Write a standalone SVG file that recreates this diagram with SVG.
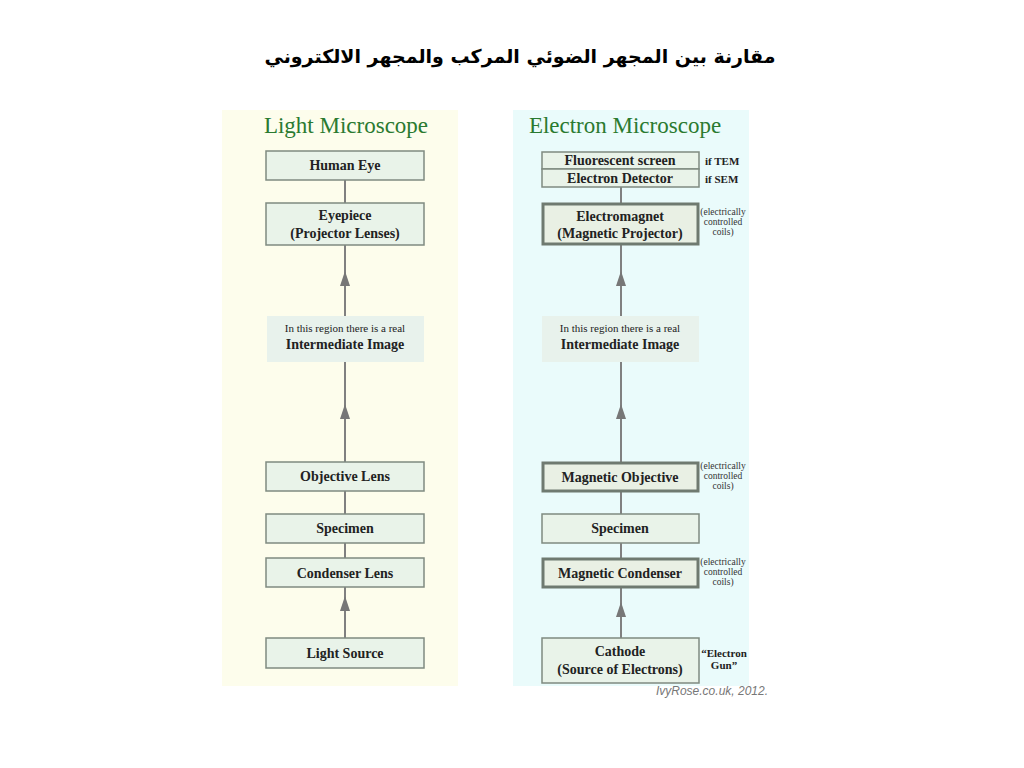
<svg xmlns="http://www.w3.org/2000/svg" width="1024" height="768" viewBox="0 0 1024 768">
<defs>
<style>
.bg{fill:#ffffff}
.lp{fill:#fdfdec}
.rp{fill:#eafbfb}
.h{font-family:"Liberation Serif",serif;font-size:23px;fill:#2a7a30;text-anchor:middle}
.box{fill:#e9f3e9;stroke:#7f8a80;stroke-width:1.5}
.tbox{fill:#e9f0e4;stroke:#6f7a70;stroke-width:3}
.reg{fill:#e8f2ec}
.t{font-family:"Liberation Serif",serif;font-size:14px;font-weight:bold;fill:#222;text-anchor:middle}
.s{font-family:"Liberation Serif",serif;font-size:11px;fill:#222;text-anchor:middle}
.side{font-family:"Liberation Serif",serif;font-size:9.5px;fill:#333;text-anchor:middle}
.sb{font-family:"Liberation Serif",serif;font-size:11px;font-weight:bold;fill:#222}
.ln{stroke:#808080;stroke-width:2;fill:none}
.ah{fill:#777}
</style>
</defs>
<rect class="bg" x="0" y="0" width="1024" height="768"/>
<text x="520" y="63" font-family="'DejaVu Sans','Noto Sans',sans-serif" font-size="19" font-weight="bold" text-anchor="middle" direction="rtl" fill="#000">مقارنة بين المجهر الضوئي المركب والمجهر الالكتروني</text>

<rect class="lp" x="222" y="110" width="236" height="576"/>
<rect class="rp" x="513" y="110" width="236" height="576"/>

<text class="h" x="346" y="133">Light Microscope</text>
<text class="h" x="625" y="133">Electron Microscope</text>

<g id="connectors">
<line class="ln" x1="345" y1="180" x2="345" y2="638"/>
<polygon class="ah" points="345,271 340,286 350,286"/>
<polygon class="ah" points="345,404 340,419 350,419"/>
<polygon class="ah" points="345,596 340,611 350,611"/>
<line class="ln" x1="621" y1="187" x2="621" y2="638"/>
<polygon class="ah" points="621,271 616,286 626,286"/>
<polygon class="ah" points="621,404 616,419 626,419"/>
<polygon class="ah" points="621,602 616,617 626,617"/>
</g>

<g id="human-eye"><rect class="box" x="266" y="151" width="158" height="29"/><text class="t" x="345" y="170">Human Eye</text></g>
<g id="eyepiece"><rect class="box" x="266" y="203" width="158" height="42"/><text class="t" x="345" y="220">Eyepiece</text><text class="t" x="345" y="238">(Projector Lenses)</text></g>
<g id="intermediate-left"><rect class="reg" x="267" y="316" width="157" height="46"/><text class="s" x="345" y="332">In this region there is a real</text><text class="t" x="345" y="349">Intermediate Image</text></g>
<g id="objective-lens"><rect class="box" x="266" y="462" width="158" height="29"/><text class="t" x="345" y="481">Objective Lens</text></g>
<g id="specimen-left"><rect class="box" x="266" y="514" width="158" height="29"/><text class="t" x="345" y="533">Specimen</text></g>
<g id="condenser-lens"><rect class="box" x="266" y="558" width="158" height="29"/><text class="t" x="345" y="578">Condenser Lens</text></g>
<g id="light-source"><rect class="box" x="266" y="638" width="158" height="30"/><text class="t" x="345" y="658">Light Source</text></g>

<g id="screen-detector"><rect class="box" x="542" y="152" width="157" height="17"/><rect class="box" x="542" y="169" width="157" height="18"/><text class="t" x="620" y="165" font-size="13">Fluorescent screen</text><text class="t" x="620" y="183" font-size="13">Electron Detector</text><text class="sb" x="705" y="165">if TEM</text><text class="sb" x="705" y="183">if SEM</text></g>
<g id="electromagnet"><rect class="tbox" x="543" y="204" width="155" height="40"/><text class="t" x="620" y="221">Electromagnet</text><text class="t" x="620" y="238">(Magnetic Projector)</text><text class="side" x="723" y="215">(electrically</text><text class="side" x="723" y="225">controlled</text><text class="side" x="723" y="235">coils)</text></g>
<g id="intermediate-right"><rect class="reg" x="542" y="316" width="157" height="46"/><text class="s" x="620" y="332">In this region there is a real</text><text class="t" x="620" y="349">Intermediate Image</text></g>
<g id="magnetic-objective"><rect class="tbox" x="543" y="463" width="155" height="28"/><text class="t" x="620" y="482">Magnetic Objective</text><text class="side" x="723" y="469">(electrically</text><text class="side" x="723" y="479">controlled</text><text class="side" x="723" y="489">coils)</text></g>
<g id="specimen-right"><rect class="box" x="542" y="514" width="157" height="29"/><text class="t" x="620" y="533">Specimen</text></g>
<g id="magnetic-condenser"><rect class="tbox" x="543" y="559" width="155" height="28"/><text class="t" x="620" y="578">Magnetic Condenser</text><text class="side" x="723" y="565">(electrically</text><text class="side" x="723" y="575">controlled</text><text class="side" x="723" y="585">coils)</text></g>
<g id="cathode"><rect class="box" x="542" y="638" width="157" height="45"/><text class="t" x="620" y="656">Cathode</text><text class="t" x="620" y="674">(Source of Electrons)</text><text class="sb" x="724" y="657" text-anchor="middle" font-size="10">“Electron</text><text class="sb" x="724" y="669" text-anchor="middle" font-size="10">Gun”</text></g>

<text x="768" y="695" font-family="'Liberation Sans',sans-serif" font-size="12" font-style="italic" fill="#777" text-anchor="end">IvyRose.co.uk, 2012.</text>
</svg>
